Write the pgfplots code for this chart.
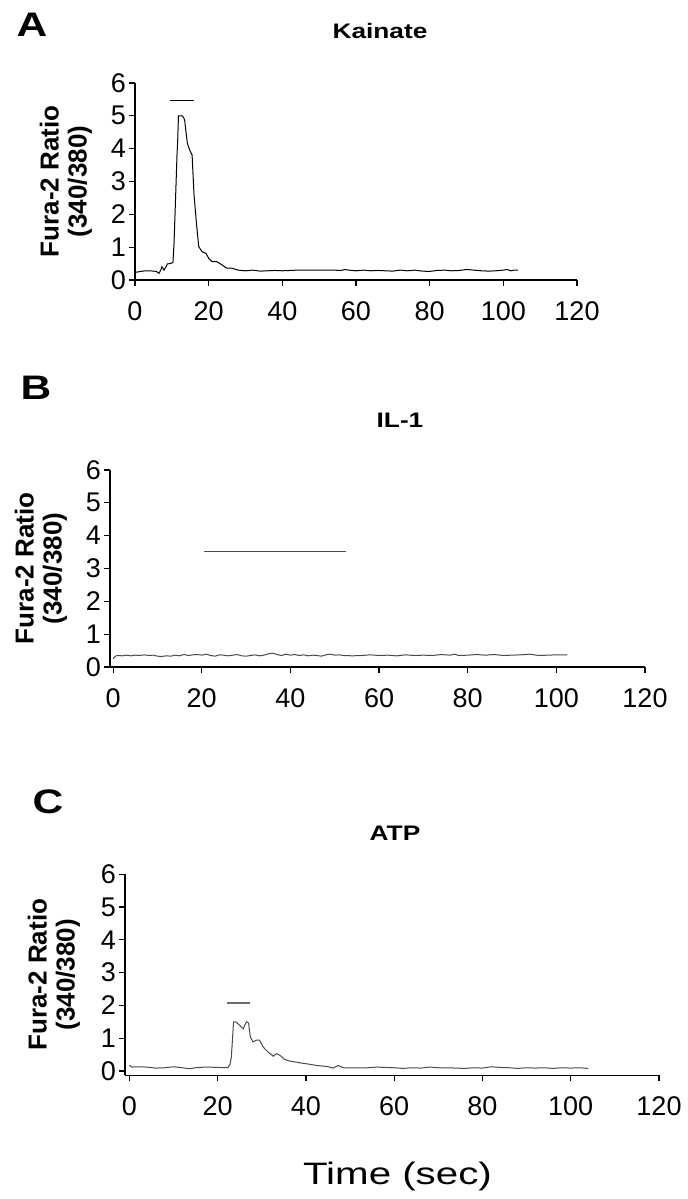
\documentclass[border=0pt]{standalone}
\usepackage{pgfplots}
\pgfplotsset{compat=1.18}
\usepackage{fontspec}
\setmainfont{Liberation Sans}

\definecolor{trace}{HTML}{4A4A4A}

\pgfplotsset{
  fura/.style={
    scale only axis,
    anchor=south west,
    ymin=0, ymax=6,
    xmax=120,
    xtick={0,20,...,120},
    ytick={0,1,...,6},
    axis x line*=bottom,
    axis y line*=left,
    axis line style={-, line width=0.6pt},
    tick align=outside,
    major tick length=2.8pt,
    tick style={line width=0.6pt, black},
    /pgf/number format/assume math mode=true,
    tick label style={font=\fontsize{13.5}{13.5}\selectfont},
    xticklabel style={yshift=-4.5pt},
    yticklabel style={inner sep=1pt, xshift=-0.5pt},
    ylabel={Fura-2 Ratio\\(340/380)},
    ylabel style={anchor=center, align=center,
      font=\bfseries\fontsize{13}{14}\selectfont},
    clip=false,
  },
}

\begin{document}
\begin{tikzpicture}
\path[use as bounding box] (0,0) rectangle (344pt,599.5pt);

% panel A: Kainate
\begin{axis}[fura, at={(67.5pt,459.5pt)}, width=221pt, height=98.5pt,
  xmin=0, ylabel style={at={([xshift=-34.5pt]axis description cs:0,0.5)}}]
\addplot[black, line width=0.5pt] coordinates {
(0,0.23) (1,0.25) (2,0.27) (3,0.28) (4,0.28) (5,0.27) (5.8,0.26) (6.5,0.2)
(7,0.3) (7.3,0.4) (7.9,0.3) (8.5,0.42) (8.8,0.49) (9.5,0.5) (10.3,0.53)
(10.6,1.12) (11,2.44) (11.4,3.8) (11.6,4.27) (11.8,5.0) (12.8,5.0)
(13.2,4.95) (13.5,4.85) (14.2,4.17) (14.8,3.97) (15.5,3.81) (16,2.64)
(16.6,1.83) (17.3,1.02) (18.2,0.86) (19.3,0.81) (20,0.66) (20.9,0.56)
(22.2,0.56) (23.6,0.46) (24.9,0.36) (26.3,0.36) (28,0.3)
(30,0.28) (32,0.3) (34,0.27) (36,0.28) (38,0.29) (40,0.28) (42,0.29)
(44,0.3) (46,0.3) (48,0.3) (50,0.3) (52,0.3) (54,0.3) (56,0.29) (57,0.32)
(58,0.3) (60,0.28) (62,0.3) (64,0.28) (66,0.29) (68,0.28) (70,0.27)
(72,0.3) (74,0.28) (76,0.3) (78,0.27) (80,0.26) (82,0.29) (84,0.3)
(86,0.28) (88,0.29) (90,0.32) (92,0.3) (94,0.28) (96,0.27) (98,0.28)
(100,0.3) (101,0.32) (102,0.28) (103,0.3) (104,0.3)
};
\addplot[black, line width=0.6pt] coordinates {(9.4,5.46) (16,5.46)};
\end{axis}

% panel B: IL-1
\begin{axis}[fura, at={(55pt,266pt)}, width=267.5pt, height=98.5pt,
  xmin=-0.7, ylabel style={at={([xshift=-34.5pt]axis description cs:0,0.5)}}]
\addplot[trace, line width=0.5pt] coordinates {
(0,0.25) (0.5,0.33) (1,0.35) (2,0.34) (3,0.36) (4,0.34) (5,0.36) (6,0.35)
(7,0.37) (8,0.35) (9,0.36) (10,0.33) (11,0.32) (12,0.34) (13,0.33)
(14,0.36) (15,0.34) (16,0.38) (17,0.35) (18,0.37) (19,0.38) (20,0.36)
(21,0.39) (22,0.35) (23,0.33) (24,0.37) (25,0.36) (26,0.34) (27,0.36)
(28,0.38) (29,0.34) (30,0.33) (31,0.35) (32,0.37) (33,0.34) (34,0.36)
(35,0.40) (36,0.42) (37,0.38) (38,0.35) (39,0.39) (40,0.36) (41,0.38)
(42,0.35) (43,0.37) (44,0.34) (45,0.36) (46,0.35) (47,0.33) (48,0.37)
(49,0.39) (50,0.36) (51,0.37) (52,0.35) (54,0.34) (56,0.35) (58,0.37)
(60,0.35) (62,0.36) (64,0.34) (66,0.37) (68,0.35) (70,0.36) (72,0.35)
(74,0.38) (76,0.36) (77,0.39) (78,0.35) (80,0.36) (82,0.38) (84,0.36)
(86,0.38) (88,0.35) (90,0.36) (92,0.37) (94,0.39) (96,0.35) (98,0.36)
(100,0.37) (102.5,0.37)
};
\addplot[trace, line width=0.6pt] coordinates {(20.5,3.52) (52.5,3.52)};
\end{axis}

% panel C: ATP
\begin{axis}[fura, at={(62.5pt,61.85pt)}, width=267pt, height=100.6pt,
  xmin=-1, ymin=-0.13, ylabel style={at={([xshift=-35.5pt]axis description cs:0,0.5)}}]
\addplot[trace, line width=0.5pt] coordinates {
(0,0.18) (0.5,0.12) (2,0.13) (4,0.12) (6,0.09) (8,0.1) (10,0.13) (12,0.1)
(13.6,0.07) (15,0.1) (17,0.12) (18,0.12) (20,0.11) (22.3,0.1) (22.8,0.2)
(23.1,0.43) (23.6,1.5) (24.1,1.5) (25,1.39) (25.8,1.29) (26.5,1.5)
(27,1.46) (27.4,1.04) (28,0.89) (28.8,0.94) (29.5,0.94) (30.3,0.73)
(31.4,0.58) (32.6,0.45) (33.3,0.53) (34.1,0.48) (35.2,0.35) (36.4,0.3)
(37.9,0.27) (39,0.24) (40.2,0.22) (42.4,0.17) (44.7,0.14) (46.2,0.09)
(47.3,0.17) (48.5,0.1) (50,0.1) (52,0.1) (54,0.1) (56,0.12) (58,0.11)
(60,0.1) (62,0.08) (64,0.1) (66,0.09) (68,0.12) (70,0.1) (72,0.1)
(74,0.09) (76,0.08) (78,0.1) (80,0.09) (82,0.13) (84,0.11) (86,0.1)
(88,0.08) (90,0.1) (92,0.09) (94,0.1) (96,0.08) (98,0.1) (100,0.09)
(102,0.1) (104,0.08)
};
\addplot[trace!80, line width=0.7pt] coordinates {(22.1,2.07) (27.4,2.07)};
\end{axis}

% panel letters, titles, common x label
\begin{scope}[every node/.style={inner sep=0pt, xscale=1.25}]
\node[font=\bfseries\fontsize{17}{17}\selectfont] at (16pt,587pt) {A};
\node[font=\bfseries\fontsize{17}{17}\selectfont] at (18pt,405.5pt) {B};
\node[font=\bfseries\fontsize{17}{17}\selectfont] at (24pt,198.5pt) {C};
\node[font=\bfseries\fontsize{10.5}{10.5}\selectfont] at (190pt,584pt) {Kainate};
\node[font=\bfseries\fontsize{10.5}{10.5}\selectfont] at (200pt,389.5pt) {IL-1};
\node[font=\bfseries\fontsize{10.5}{10.5}\selectfont] at (197.5pt,183pt) {ATP};
\node[font=\fontsize{15.5}{15.5}\selectfont, anchor=base, xscale=1.04] at (198.75pt,7pt) {Time (sec)};
\end{scope}
\end{tikzpicture}
\end{document}
